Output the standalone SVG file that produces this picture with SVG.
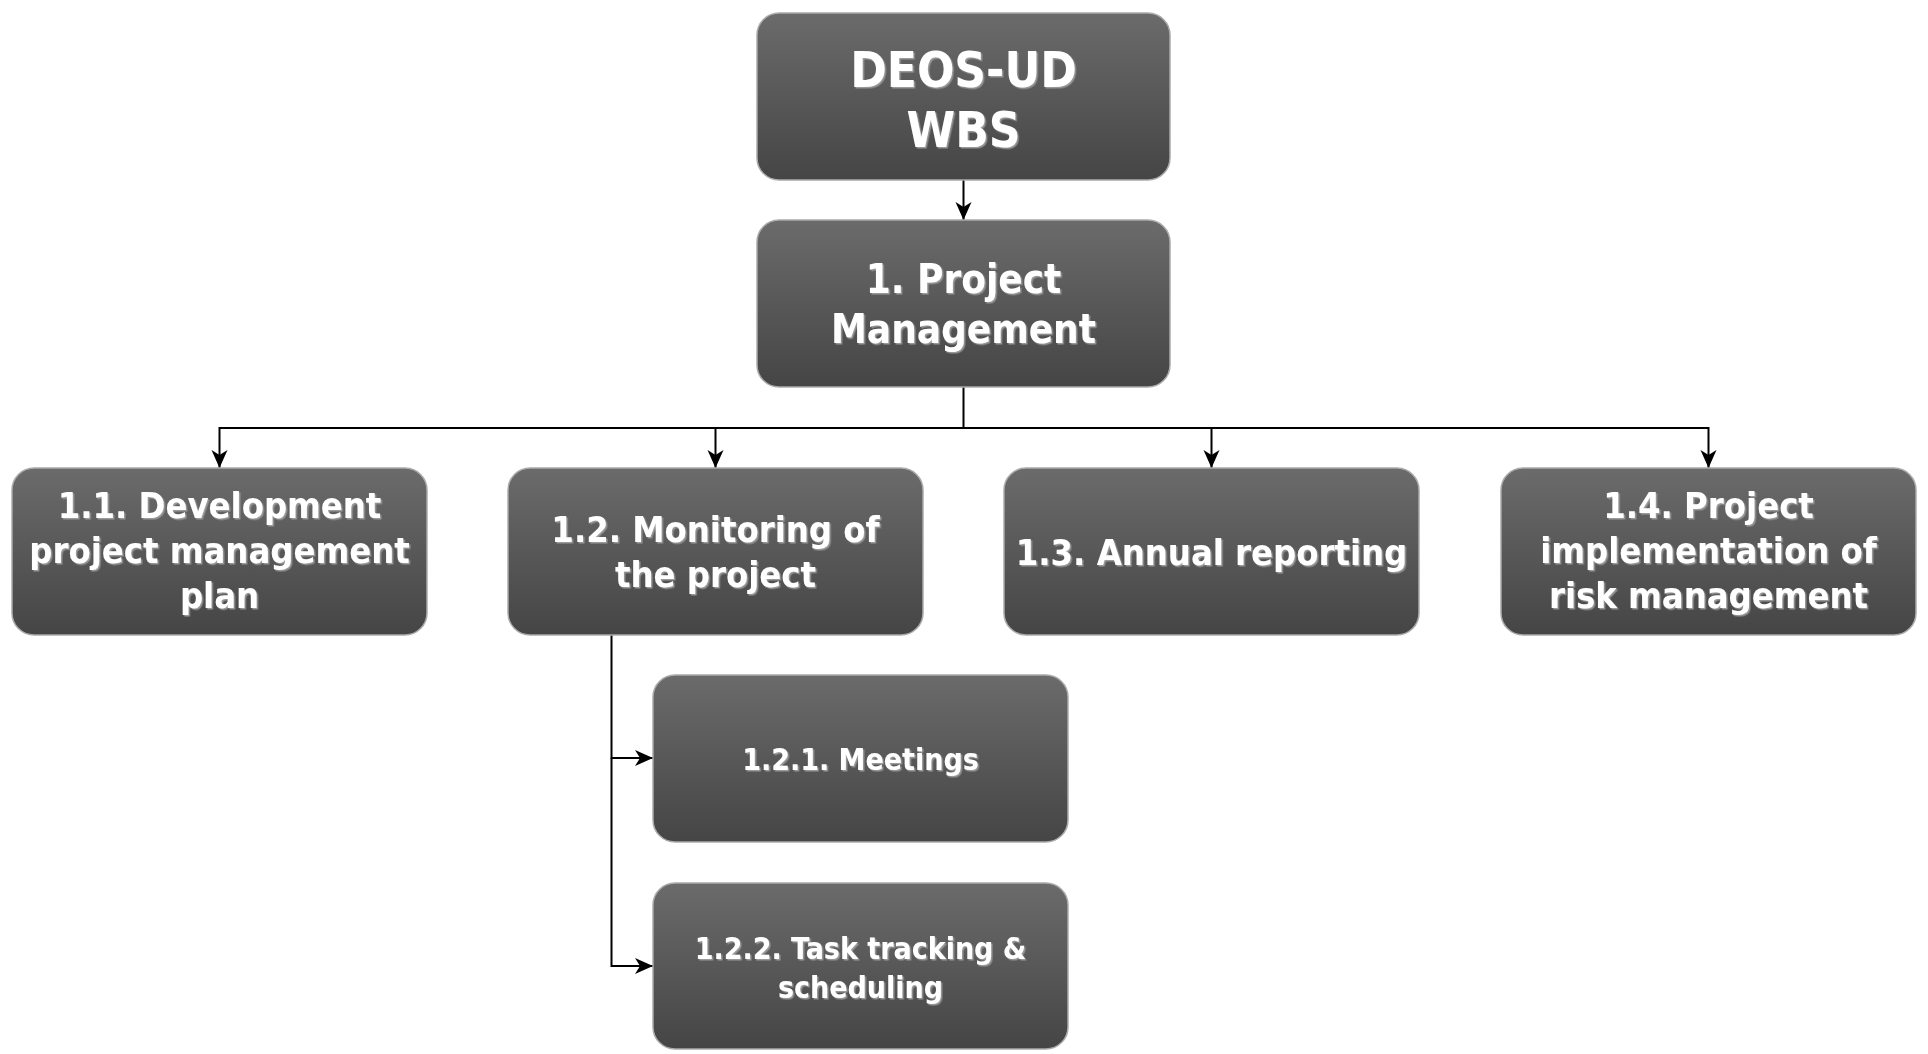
<svg xmlns="http://www.w3.org/2000/svg" width="1928" height="1054" viewBox="0 0 1928 1054">
<style>
.box{fill:url(#g);stroke:#ababab;stroke-width:1.5}
.t{font-family:"DejaVu Sans Condensed","DejaVu Sans",sans-serif;font-stretch:condensed;font-weight:bold;fill:#ffffff;text-anchor:middle;filter:url(#ts)}
.c{fill:none;stroke:#000;stroke-width:2}
</style>
<defs>
<linearGradient id="g" x1="0" y1="0" x2="0" y2="1">
<stop offset="0" stop-color="#6b6b6b"/>
<stop offset="1" stop-color="#454545"/>
</linearGradient>
<filter id="ts" x="-5%" y="-20%" width="110%" height="140%">
<feDropShadow dx="1.5" dy="1.5" stdDeviation="0.6" flood-color="#a0a0a0" flood-opacity="0.9"/>
</filter>
<marker id="ar" markerUnits="userSpaceOnUse" markerWidth="20" markerHeight="18" viewBox="0 -9 20 18" refX="18" refY="0" orient="auto">
<path d="M0,-8 L18,0 L0,8 L5,0 z" fill="#000"/>
</marker>
</defs>
<g id="connectors">
<path class="c" d="M963.5,180 V220" marker-end="url(#ar)"/>
<path class="c" d="M963.5,387 V428 H219.5 V468" marker-end="url(#ar)"/>
<path class="c" d="M715.5,428 V468" marker-end="url(#ar)"/>
<path class="c" d="M963.5,428 H1211.5 V468" marker-end="url(#ar)"/>
<path class="c" d="M1211.5,428 H1708.5 V468" marker-end="url(#ar)"/>
<path class="c" d="M611.5,635 V758 H653" marker-end="url(#ar)"/>
<path class="c" d="M611.5,758 V966 H653" marker-end="url(#ar)"/>
</g>
<g id="node-root">
<rect class="box" x="757" y="13" width="413" height="167" rx="22"/>
<text class="t" font-size="49" x="963.5" y="87">DEOS-UD</text>
<text class="t" font-size="49" x="963.5" y="147">WBS</text>
</g>
<g id="node-1">
<rect class="box" x="757" y="220" width="413" height="167" rx="22"/>
<text class="t" font-size="40" x="963.5" y="293">1. Project</text>
<text class="t" font-size="40" x="963.5" y="343">Management</text>
</g>
<g id="node-1-1">
<rect class="box" x="12" y="468" width="415" height="167" rx="22"/>
<text class="t" font-size="36" x="219.5" y="518">1.1. Development</text>
<text class="t" font-size="36" x="219.5" y="563">project management</text>
<text class="t" font-size="36" x="219.5" y="608">plan</text>
</g>
<g id="node-1-2">
<rect class="box" x="508" y="468" width="415" height="167" rx="22"/>
<text class="t" font-size="36" x="715.5" y="542">1.2. Monitoring of</text>
<text class="t" font-size="36" x="715.5" y="587">the project</text>
</g>
<g id="node-1-3">
<rect class="box" x="1004" y="468" width="415" height="167" rx="22"/>
<text class="t" font-size="36" x="1211.5" y="565">1.3. Annual reporting</text>
</g>
<g id="node-1-4">
<rect class="box" x="1501" y="468" width="415" height="167" rx="22"/>
<text class="t" font-size="36" x="1708.5" y="518">1.4. Project</text>
<text class="t" font-size="36" x="1708.5" y="563">implementation of</text>
<text class="t" font-size="36" x="1708.5" y="608">risk management</text>
</g>
<g id="node-1-2-1">
<rect class="box" x="653" y="675" width="415" height="167" rx="22"/>
<text class="t" font-size="30" x="860.5" y="770">1.2.1. Meetings</text>
</g>
<g id="node-1-2-2">
<rect class="box" x="653" y="883" width="415" height="166" rx="22"/>
<text class="t" font-size="30" x="860.5" y="959">1.2.2. Task tracking &amp;</text>
<text class="t" font-size="30" x="860.5" y="998">scheduling</text>
</g>
</svg>
